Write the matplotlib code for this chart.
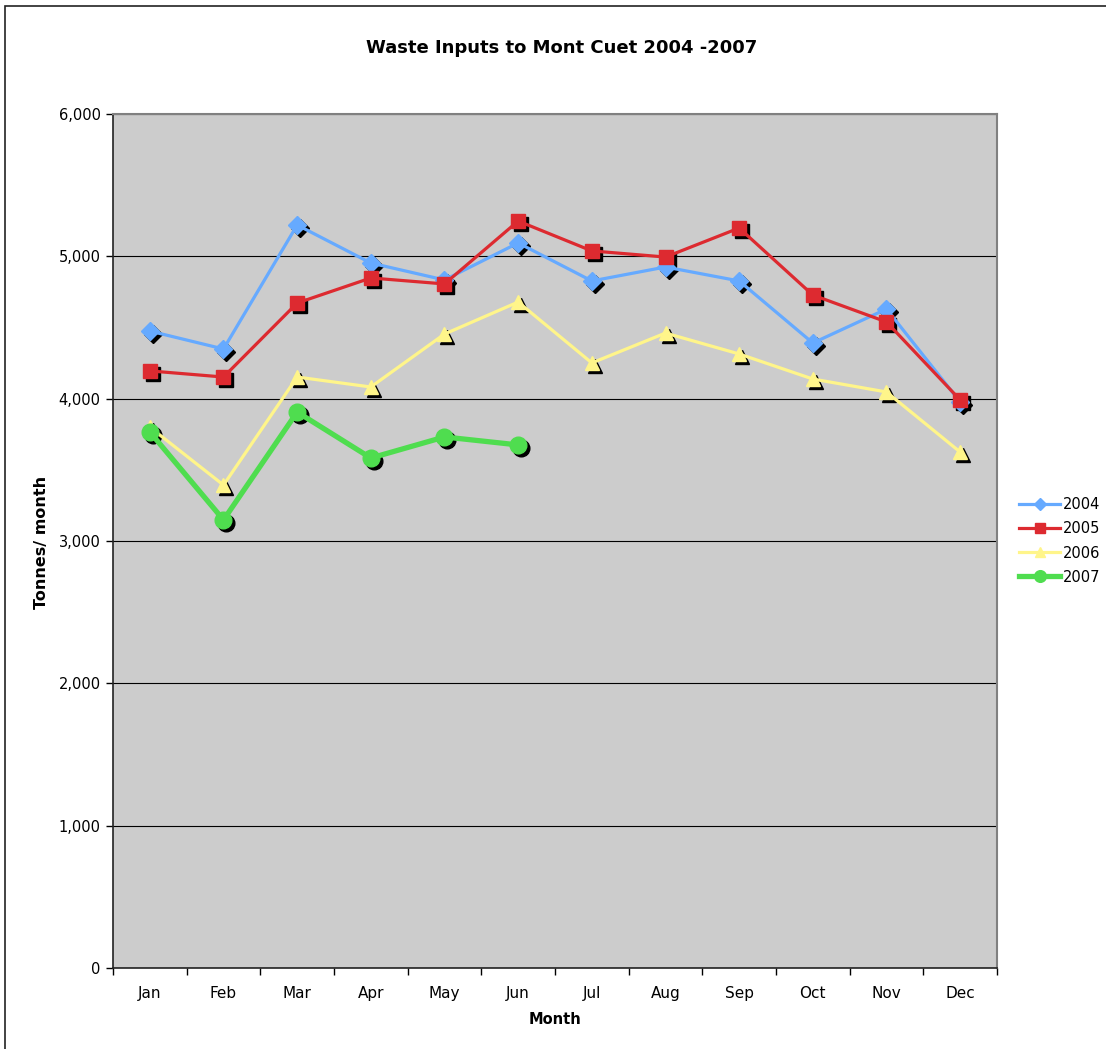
import numpy as np
import matplotlib
matplotlib.use('Agg')
import matplotlib.pyplot as plt
from matplotlib.patches import Rectangle
from matplotlib.transforms import offset_copy

months = ['Jan', 'Feb', 'Mar', 'Apr', 'May', 'Jun',
          'Jul', 'Aug', 'Sep', 'Oct', 'Nov', 'Dec']
t2004 = [4475, 4349, 5220, 4953, 4834, 5094, 4827, 4925, 4827, 4391, 4630, 3977]
t2005 = [4195, 4152, 4672, 4848, 4806, 5248, 5038, 4995, 5199, 4728, 4539, 3991]
t2006 = [3800, 3393, 4152, 4082, 4454, 4679, 4251, 4461, 4314, 4138, 4047, 3625]
t2007 = [3766, 3148, 3906, 3583, 3731, 3675]

series = [
    ('2004', t2004, '#66aaff', 'D', 9, 2.3),
    ('2005', t2005, '#dd2a30', 's', 10, 2.3),
    ('2006', t2006, '#fff58a', '^', 10, 2.3),
    ('2007', t2007, '#4fdd4f', 'o', 12, 3.8),
]

fig = plt.figure(figsize=(11.06, 10.49), dpi=100)
W, H = 1106, 1049
ax = fig.add_axes([113 / W, 1 - 968 / H, (997 - 113) / W, (968 - 114) / H])
ax.set_facecolor('#cccccc')

# outer chart frame, runs off the right/bottom edge
fig.patches.append(Rectangle((4.5 / W, -0.5), 2, 1.5 - 5.5 / H, transform=fig.transFigure,
                             fill=False, edgecolor='#222222', linewidth=1.2))

x = np.arange(len(months))
shadow = offset_copy(ax.transData, fig=fig, x=3, y=-3, units='dots')
for name, vals, color, mk, ms, lw in series:
    xs = x[:len(vals)]
    ax.plot(xs, vals, linestyle='none', marker=mk, markersize=ms,
            color='black', transform=shadow, zorder=2)
    ax.plot(xs, vals, color=color, linewidth=lw, marker=mk, markersize=ms,
            markeredgecolor=color, label=name, zorder=3)

ax.set_xlim(-0.5, 11.5)
ax.set_ylim(0, 6000)
ax.set_yticks(np.arange(0, 6001, 1000))
ax.set_yticklabels([f'{v:,}' for v in range(0, 6001, 1000)])
ax.yaxis.grid(True, color='black', linewidth=0.8)
ax.set_axisbelow(True)

ax.set_xticks(x)
ax.set_xticklabels(months)
ax.set_xticks(np.arange(-0.5, 12, 1), minor=True)
ax.tick_params(axis='x', which='major', length=0, pad=13, labelsize=11)
ax.tick_params(axis='x', which='minor', length=5, width=1, direction='out')
ax.tick_params(axis='y', length=5, width=1, labelsize=10.5, pad=4)

for side in ('left', 'bottom'):
    ax.spines[side].set_color('#222222')
    ax.spines[side].set_linewidth(1.2)
for side in ('top', 'right'):
    ax.spines[side].set_color('#808080')
    ax.spines[side].set_linewidth(1.5)

title_font = dict(family='DejaVu Sans', fontweight='bold')
fig.text(562 / W, 1 - 48 / H, 'Waste Inputs to Mont Cuet 2004 -2007',
         ha='center', va='center', fontsize=13, **title_font)
fig.text(555 / W, 1 - 1019 / H, 'Month', ha='center', va='center',
         fontsize=10.5, **title_font)
fig.text(42 / W, 1 - 542 / H, 'Tonnes/ month', ha='center', va='center',
         rotation=90, fontsize=11.5, **title_font)

leg = ax.legend(loc='center left', bbox_to_anchor=(1009 / W, 1 - 541 / H),
                bbox_transform=fig.transFigure, frameon=False, fontsize=10.5,
                handlelength=2.8, handletextpad=0.2, labelspacing=0.62,
                borderpad=0.2, markerscale=0.7)

fig.savefig('out.png', dpi=100)
